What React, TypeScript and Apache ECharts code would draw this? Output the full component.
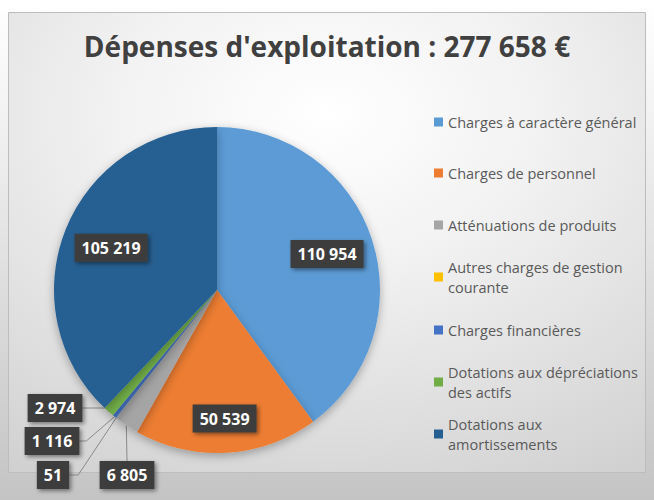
import React, { useEffect, useRef } from "react";
import * as echarts from "echarts";

const categories = [
  "Charges à caractère général",
  "Charges de personnel",
  "Atténuations de produits",
  "Autres charges de gestion courante",
  "Charges financières",
  "Dotations aux dépréciations des actifs",
  "Dotations aux amortissements",
];
const legendLabels = [
  "Charges à caractère général",
  "Charges de personnel",
  "Atténuations de produits",
  "Autres charges de gestion\ncourante",
  "Charges financières",
  "Dotations aux dépréciations\ndes actifs",
  "Dotations aux\namortissements",
];
const values = [110954, 50539, 6805, 51, 1116, 2974, 105219];
const colors = ["#5B9BD5", "#ED7D31", "#A5A5A5", "#FFC000", "#4472C4", "#70AD47", "#255E91"];

// layout constants
const CX = 217;
const CY = 290;
const R = 163;
const legendCenters = [122, 173, 225, 277, 330, 382, 434];
const insideFrac: Record<number, number> = { 0: 0.71, 1: 0.79, 6: 0.7 };
const outsideLabels: Record<number, { x: number; y: number; side: string; elbow: number }> = {
  2: { x: 127, y: 475, side: "top", elbow: 0 },
  3: { x: 53, y: 475, side: "right", elbow: 9 },
  4: { x: 52, y: 441, side: "right", elbow: 7 },
  5: { x: 55, y: 408, side: "right", elbow: 26 },
};

const fmt = (n: number) => String(n).replace(/\B(?=(\d{3})+(?!\d))/g, " ");
const total = values.reduce((a, b) => a + b, 0);
const titleText = `Dépenses d'exploitation : ${fmt(total)} €`;

export default function App() {
  const ref = useRef<HTMLDivElement>(null);
  useEffect(() => {
    if (!ref.current) return;
    const chart = echarts.init(ref.current, null, { renderer: "svg" });
    const data = values.map((v, i) => {
      const inside = insideFrac[i] != null;
      return {
        value: v,
        name: categories[i],
        itemStyle: { color: colors[i] },
        label: { position: inside ? "inside" : "outside" },
        labelLine: { show: !inside },
      };
    });
    chart.setOption({
      animation: false,
      title: {
        text: titleText,
        left: "center",
        top: 32,
        padding: 0,
        textStyle: { fontFamily: "Open Sans", fontWeight: "bold", fontSize: 28, color: "#404040" },
      },
      graphic: [
        {
          type: "rect",
          z: -10,
          shape: { x: 8.5, y: 12.5, width: 637, height: 460 },
          style: {
            fill: {
              type: "radial",
              x: 0.5,
              y: 0.22,
              r: 1.1,
              colorStops: [
                { offset: 0, color: "#ffffff" },
                { offset: 0.3, color: "#f2f2f2" },
                { offset: 1, color: "#c6c6c6" },
              ],
            },
            stroke: "#bdbdbd",
            lineWidth: 1,
          },
        },
      ],
      legend: categories.map((name, i) => {
        const multi = legendLabels[i].includes("\n");
        return {
          data: [name],
          orient: "vertical",
          left: 434,
          top: legendCenters[i] - (multi ? 30 : 10),
          padding: 0,
          itemWidth: 9,
          itemHeight: 9,
          icon: "rect",
          selectedMode: false,
          formatter: () => legendLabels[i],
          textStyle: {
            fontFamily: "Open Sans",
            fontSize: 14.5,
            color: "#595959",
            lineHeight: 20,
            padding: multi ? [20, 0, 0, 0] : 0,
          },
        };
      }),
      series: [
        {
          type: "pie",
          center: [CX, CY],
          radius: R,
          startAngle: 90,
          clockwise: true,
          avoidLabelOverlap: false,
          itemStyle: {
            shadowBlur: 10,
            shadowColor: "rgba(0,0,0,0.3)",
            shadowOffsetY: 3,
          },
          emphasis: { disabled: true },
          label: {
            show: true,
            formatter: (p: any) => fmt(p.value),
            color: "#ffffff",
            fontFamily: "Open Sans",
            fontWeight: "bold",
            fontSize: 16,
            lineHeight: 18,
            backgroundColor: "#3d3d3d",
            padding: [5, 7, 5, 7],
            shadowColor: "rgba(0,0,0,0.45)",
            shadowBlur: 4,
            shadowOffsetX: 2,
            shadowOffsetY: 2,
          },
          labelLine: {
            lineStyle: { color: "#8a8a8a", width: 1 },
            length: 10,
            length2: 10,
          },
          labelLayout: (p: any) => {
            const i = p.dataIndex;
            const w = p.labelRect.width;
            const h = p.labelRect.height;
            if (insideFrac[i] != null) {
              const lx = p.labelRect.x + w / 2 - CX;
              const ly = p.labelRect.y + h / 2 - CY;
              const d = Math.hypot(lx, ly) || 1;
              return {
                x: CX + (lx / d) * insideFrac[i] * R,
                y: CY + (ly / d) * insideFrac[i] * R,
                align: "center",
                verticalAlign: "middle",
              };
            }
            const o = outsideLabels[i];
            const anchor = p.labelLinePoints ? p.labelLinePoints[0] : [CX, CY];
            let pts;
            if (o.side === "top") {
              pts = [anchor, [o.x, o.y - h / 2]];
            } else {
              const ex = o.x + w / 2;
              pts = [anchor, [ex + o.elbow, o.y], [ex, o.y]];
            }
            return {
              x: o.x,
              y: o.y,
              align: "center",
              verticalAlign: "middle",
              labelLinePoints: pts,
            };
          },
          data,
        },
      ],
    });
    return () => chart.dispose();
  }, []);
  return (
    <div
      ref={ref}
      style={{
        position: "absolute",
        left: 0,
        top: 0,
        width: 654,
        height: 500,
        background: "linear-gradient(#ffffff 0%, #f4f4f4 20%, #c4c4c4 100%)",
      }}
    />
  );
}
